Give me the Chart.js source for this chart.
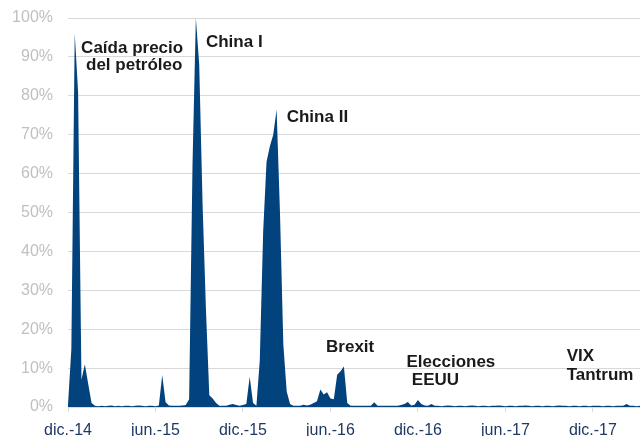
<!DOCTYPE html>
<html>
<head>
<meta charset="utf-8">
<script src="https://cdn.jsdelivr.net/npm/chart.js@4"></script>
<style>
  html, body { margin: 0; padding: 0; background: #fff; }
  #wrap { width: 644px; height: 436px; }
</style>
</head>
<body>
<div id="wrap"><canvas id="stressChart" width="644" height="436"></canvas></div>
<script>
// Weekly readings, first week = dic.-14 (percent)
const weeklyValues = [
  0.5, 15, 96, 81, 7, 11, 6, 1, 0.3, 0.2,
  0.3, 0.2, 0.3, 0.4, 0.2, 0.3, 0.2, 0.3, 0.3, 0.2,
  0.3, 0.4, 0.3, 0.2, 0.3, 0.3, 0.2, 0.4, 8.2, 1.2,
  0.4, 0.3, 0.3, 0.3, 0.4, 0.5, 2, 62, 100, 88,
  52, 25, 3, 2.2, 1, 0.3, 0.3, 0.3, 0.6, 0.8,
  0.5, 0.3, 0.5, 0.8, 7.8, 1, 0.3, 12, 45, 63,
  67, 70, 76.5, 50, 16, 4, 0.8, 0.3, 0.3, 0.3,
  0.6, 0.4, 0.6, 1, 1.5, 4.5, 3.2, 3.8, 2.2, 2,
  8.3, 9.2, 10.4, 1, 0.3, 0.3, 0.3, 0.3, 0.3, 0.3,
  0.3, 1.2, 0.3, 0.3, 0.3, 0.3, 0.3, 0.3, 0.3, 0.5,
  0.8, 1.3, 0.4, 0.6, 1.8, 0.8, 0.4, 0.3, 0.8, 0.3,
  0.3, 0.2, 0.3, 0.4, 0.3, 0.2, 0.3, 0.3, 0.2, 0.3,
  0.4, 0.3, 0.2, 0.3, 0.3, 0.2, 0.3, 0.3, 0.4, 0.3,
  0.2, 0.3, 0.3, 0.2, 0.3, 0.3, 0.4, 0.3, 0.2, 0.3,
  0.3, 0.2, 0.3, 0.3, 0.2, 0.3, 0.4, 0.3, 0.3, 0.2,
  0.3, 0.3, 0.2, 0.3, 0.3, 0.2, 0.3, 0.3, 0.3, 0.2,
  0.3, 0.3, 0.2, 0.3, 0.3, 0.3, 0.8, 0.3, 0.3, 0.2,
  0.3
];

// Half-year ticks along the week axis
const tickWeeks = [0, 26, 52, 78, 104, 130, 156];
const tickLabels = ["dic.-14", "jun.-15", "dic.-15", "jun.-16", "dic.-16", "jun.-17", "dic.-17"];

// Event labels, placed in data units (week, percent) at the text baseline
const eventLabels = [
  { text: "Caída precio", week: 3.9, pct: 91.0 },
  { text: "del petróleo", week: 5.35, pct: 86.6 },
  { text: "China I", week: 41.0, pct: 92.6 },
  { text: "China II", week: 65.0, pct: 73.3 },
  { text: "Brexit", week: 76.7, pct: 14.2 },
  { text: "Elecciones", week: 100.6, pct: 10.4 },
  { text: "EEUU", week: 102.2, pct: 5.7 },
  { text: "VIX", week: 148.2, pct: 11.8 },
  { text: "Tantrum", week: 148.2, pct: 6.9 }
];

const points = weeklyValues.map((v, i) => ({ x: i, y: v }));

// draws the event names on top of the area
const eventLabelPlugin = {
  id: "eventLabels",
  afterDatasetsDraw(chart) {
    const { ctx, scales } = chart;
    ctx.save();
    ctx.font = "bold 17px 'Liberation Sans', Arial, sans-serif";
    ctx.fillStyle = "#1a1a1a";
    ctx.textAlign = "left";
    ctx.textBaseline = "alphabetic";
    eventLabels.forEach((lab) => {
      ctx.fillText(lab.text, scales.x.getPixelForValue(lab.week), scales.y.getPixelForValue(lab.pct));
    });
    ctx.restore();
  }
};

const ctx = document.getElementById("stressChart").getContext("2d");
new Chart(ctx, {
  type: "line",
  data: {
    datasets: [
      {
        data: points,
        backgroundColor: "#02437e",
        borderWidth: 0,
        pointRadius: 0,
        tension: 0,
        fill: "origin"
      }
    ]
  },
  options: {
    responsive: false,
    animation: false,
    layout: { padding: { top: 18, right: 4, bottom: 0, left: 0 } },
    plugins: {
      legend: { display: false },
      tooltip: { enabled: false }
    },
    scales: {
      x: {
        type: "linear",
        min: 0,
        max: weeklyValues.length - 1,
        afterBuildTicks(scale) {
          scale.ticks = tickWeeks.map((v) => ({ value: v }));
        },
        afterFit(scale) {
          scale.height = 29;
        },
        ticks: {
          autoSkip: false,
          maxRotation: 0,
          padding: 9,
          color: "#1f3864",
          font: { family: "'Liberation Sans', Arial, sans-serif", size: 16 },
          callback: (value) => tickLabels[tickWeeks.indexOf(value)] || ""
        },
        grid: {
          drawOnChartArea: false,
          drawTicks: true,
          tickLength: 5,
          color: "#d9d9d9"
        },
        border: { display: false }
      },
      y: {
        min: 0,
        max: 100,
        afterFit(scale) {
          scale.width = 68;
        },
        ticks: {
          stepSize: 10,
          padding: 0,
          color: "#c0c0c0",
          font: { family: "'Liberation Sans', Arial, sans-serif", size: 16 },
          callback: (value) => value + "%"
        },
        grid: {
          color: "#d9d9d9",
          lineWidth: 1,
          drawTicks: true,
          tickLength: 15,
          tickColor: "rgba(0,0,0,0)"
        },
        border: { display: false }
      }
    }
  },
  plugins: [eventLabelPlugin]
});
</script>
</body>
</html>
